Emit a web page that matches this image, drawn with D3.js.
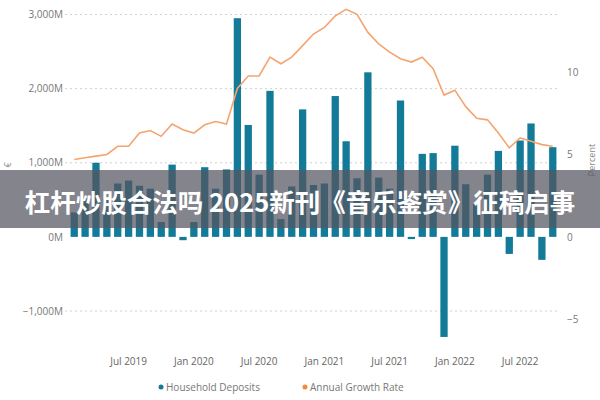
<!DOCTYPE html>
<html><head><meta charset="utf-8">
<script src="https://cdn.jsdelivr.net/npm/d3@7"></script>
<style>body{margin:0;background:#fff}svg{display:block}</style>
</head><body><svg id="c" width="600" height="400"></svg>
<script>
const months = d3.timeMonths(new Date(2019,1,1), new Date(2022,10,1));
const deposits = [330,520,1000,510,720,760,690,650,200,975,-45,200,940,650,910,2950,1510,840,1970,240,680,1720,700,
  720,1900,1290,790,2220,800,650,1840,-30,1120,1130,-1350,1230,710,440,840,1160,-230,1300,1530,-310,1210];
const growth = [4.7,4.8,4.9,5.0,5.5,5.5,6.3,6.45,6.1,6.85,6.5,6.3,6.8,7.0,6.85,9.0,9.76,9.76,10.9,10.5,10.9,11.6,12.3,
  12.7,13.4,13.8,13.5,12.4,11.7,11.2,10.8,10.6,10.9,10.2,8.6,8.9,7.9,7.2,7.1,6.3,5.4,6.0,5.8,5.6,5.5];
const leftTicks = [-1000,0,1000,2000,3000];
const rightTicks = [-5,0,5,10];
const xTickLabels = ["Jul 2019","Jan 2020","Jul 2020","Jan 2021","Jul 2021","Jan 2022","Jul 2022"];
const banner = "杠杆炒股合法吗 2025新刊《音乐鉴赏》征稿启事";

const svg = d3.select("#c");
const font = "'Open Sans', 'DejaVu Sans', sans-serif";
const x = d3.scaleBand().domain(months).range([67, 560]).padding(0.33);
const yL = d3.scaleLinear().domain([-1000,3000]).range([311, 14.5]);
const yR = d3.scaleLinear().domain([0,10]).range([237, 72]);
const fmt = d3.timeFormat("%b %Y");

svg.append("g").selectAll("line").data(leftTicks.filter(d=>d!==0)).join("line")
  .attr("x1",65).attr("x2",560).attr("y1",d=>yL(d)).attr("y2",d=>yL(d))
  .attr("stroke","#d0d0d0").attr("stroke-dasharray","2,3");

const gl = svg.append("g").attr("transform","translate(66,0)")
  .call(d3.axisLeft(yL).tickValues(leftTicks).tickSize(0).tickPadding(3).tickFormat(d=>d3.format(",")(d)+"M"));
gl.select(".domain").remove();
gl.selectAll("text").attr("fill","#777").style("font-family",font).style("font-size","10px");

const gr = svg.append("g").attr("transform","translate(565,0)")
  .call(d3.axisRight(yR).tickValues(rightTicks).tickSize(0).tickPadding(2));
gr.select(".domain").remove();
gr.selectAll("text").attr("fill","#777").style("font-family",font).style("font-size","10px");
svg.append("text").attr("transform","translate(595,160) rotate(-90)").attr("text-anchor","middle")
  .attr("fill","#888").style("font-family",font).style("font-size","9px").text("Percent");
svg.append("text").attr("transform","translate(11,165) rotate(-90)").attr("text-anchor","middle")
  .attr("fill","#888").style("font-family",font).style("font-size","9px").text("€");

const tickMonths = months.filter(m=>xTickLabels.includes(fmt(m)));
const gx = svg.append("g").attr("transform","translate(0,358)")
  .call(d3.axisBottom(x).tickValues(tickMonths).tickSize(0).tickPadding(0).tickFormat(fmt));
gx.select(".domain").remove();
gx.selectAll("text").attr("fill","#666").style("font-family",font).style("font-size","10px");

svg.append("g").selectAll("rect").data(deposits).join("rect")
  .attr("x",(d,i)=>x(months[i])).attr("width",x.bandwidth())
  .attr("y",d=>yL(Math.max(0,d))).attr("height",d=>Math.abs(yL(d)-yL(0)))
  .attr("fill","#137a98");

svg.append("path").datum(growth)
  .attr("d",d3.line().x((d,i)=>x(months[i])+x.bandwidth()/2).y(d=>yR(d)))
  .attr("fill","none").attr("stroke","#f5a470").attr("stroke-width",1.6);

const lg = svg.append("g").style("font-family",font).style("font-size","10px");
lg.append("circle").attr("cx",161).attr("cy",387).attr("r",2.5).attr("fill","#137a98");
lg.append("text").attr("x",166).attr("y",391).attr("fill","#777").text("Household Deposits");
lg.append("circle").attr("cx",305).attr("cy",387).attr("r",2.5).attr("fill","#f08a3c");
lg.append("text").attr("x",310).attr("y",391).attr("fill","#777").text("Annual Growth Rate");

svg.append("rect").attr("x",0).attr("y",170).attr("width",600).attr("height",58)
  .attr("fill","#55555f").attr("opacity",0.72);
svg.append("text").attr("x",300).attr("y",212).attr("text-anchor","middle")
  .attr("fill","#fff").style("font-family","'Noto Sans CJK SC', sans-serif").style("font-weight","bold")
  .style("font-size","25.5px").text(banner);
</script></body></html>
